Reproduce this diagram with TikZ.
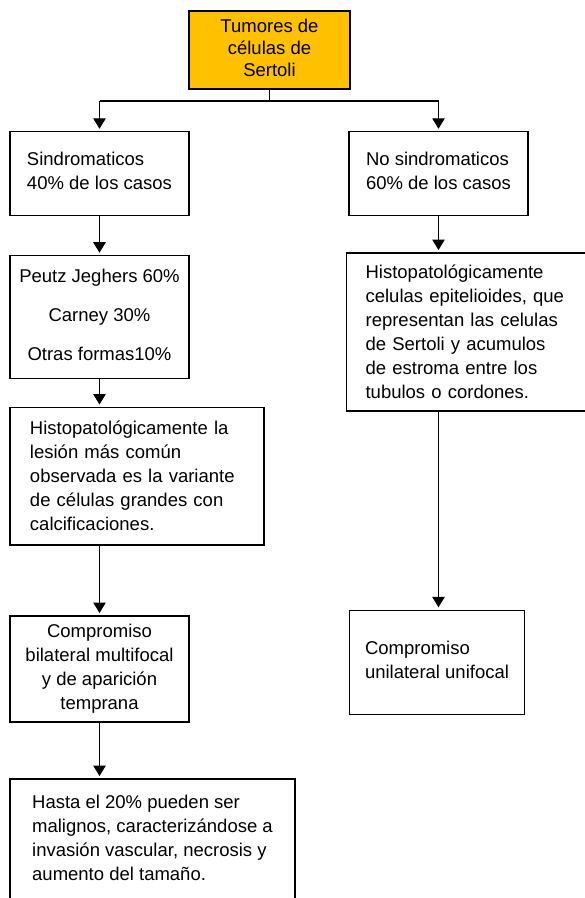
\documentclass[tikz,border=0pt]{standalone}
\usepackage{fontspec}
\setmainfont{Liberation Sans}
\usetikzlibrary{arrows.meta}
\definecolor{boxorange}{HTML}{FFC000}
\newcommand\diagfs{\fontsize{18.5pt}{24pt}\selectfont}
\newcommand\diagstrut{\rule[-5.2pt]{0pt}{24pt}}
\begin{document}
\begin{tikzpicture}[
  every node/.style={inner sep=0pt, outer sep=0pt},
  box/.style={draw=black, line width=1.1pt, font=\diagfs,
    execute at begin node=\diagstrut, execute at end node=\diagstrut},
  conn/.style={line width=1.1pt},
  arr/.style={line width=1.1pt, -{Triangle[width=12.5pt,length=10.5pt]}, shorten >=3pt}]
\path[use as bounding box, fill=white] (0,0) rectangle (585pt,-898pt);

\node[box, fill=boxorange, minimum width=161pt, minimum height=78pt, align=center,
  font=\fontsize{18.5pt}{22pt}\selectfont] (top) at (269.5pt,-50pt)
  {Tumores de\\células de\\Sertoli};

\node[box, minimum width=179pt, minimum height=83.3pt, align=left] (sind) at (99.5pt,-173.4pt)
  {Sindromaticos\\40\% de los casos};
\node[box, minimum width=179pt, minimum height=83.3pt, align=left] (nosind) at (438.5pt,-173.4pt)
  {No sindromaticos\\60\% de los casos};

\node[box, minimum width=179pt, minimum height=123pt, align=center] (peutz) at (99.5pt,-317.2pt)
  {Peutz Jeghers 60\%\\[15pt]Carney 30\%\\[15pt]Otras formas10\%};

\node[box, anchor=north west, text width=214pt, inner xsep=20pt, minimum height=137.5pt, align=left,
  execute at begin node=\strut, execute at end node=\strut]
  (histoL) at (10pt,-407.5pt)
  {Histopatológicamente la\\lesión más común\\observada es la variante\\de células grandes con\\calcificaciones.};

\node[box, minimum width=179pt, minimum height=106pt, align=center] (compB) at (99.5pt,-669pt)
  {Compromiso\\bilateral multifocal\\y de aparición\\temprana};

\node[box, minimum width=285pt, minimum height=123pt, align=left] (hasta) at (152.5pt,-840.5pt)
  {Hasta el 20\% pueden ser\\malignos, caracterizándose a\\invasión vascular, necrosis y\\aumento del tamaño.};

\node[box, anchor=north west, text width=230pt, inner xsep=19pt, minimum height=158pt, align=left]
  (histoR) at (346.6pt,-253pt)
  {Histopatológicamente\\celulas epitelioides, que\\representan las celulas\\de Sertoli y acumulos\\de estroma entre los\\tubulos o cordones.};

\node[box, minimum width=175.6pt, minimum height=104pt, align=left] (compU) at (437pt,-662.3pt)
  {Compromiso\\unilateral unifocal};

% connectors
\coordinate (bl) at (sind.north |- 0,-101pt);
\coordinate (br) at (nosind.north |- 0,-101pt);
\draw[conn] (top.south) -- (top.south |- bl);
\draw[conn] (bl) -- (br);
\draw[arr] (bl) -- (sind.north);
\draw[arr] (br) -- (nosind.north);
\draw[arr] (sind.south) -- (peutz.north);
\draw[arr] (peutz.south) -- (peutz.south |- histoL.north);
\draw[arr] (compB.north |- histoL.south) -- (compB.north);
\draw[arr] (compB.south) -- (compB.south |- hasta.north);
\draw[arr] (nosind.south) -- (nosind.south |- histoR.north);
\draw[arr] (nosind.south |- histoR.south) -- (nosind.south |- compU.north);
\end{tikzpicture}
\end{document}
